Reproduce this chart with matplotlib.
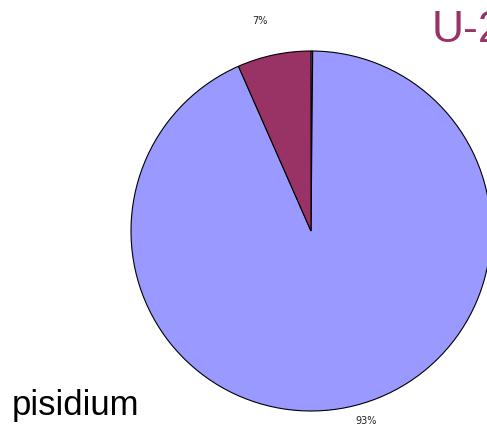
import numpy as np
import matplotlib
matplotlib.use('Agg')
import matplotlib.pyplot as plt

# slice shares, clockwise from twelve o'clock
names = ['other', 'U-2', 'pisidium']
shares = [0.15, 93.25, 6.6]
colors = ['#E8E8E8', '#9999FF', '#993366']
pct_labels = ['', '93%', '7%']
label_radius = [1.1, 1.1, 1.2]
label_shift = [0, 4.5, 1.8]  # degrees, nudges the label off the slice middle

fig = plt.figure(figsize=(4.87, 4.33), dpi=100)
ax = fig.add_axes([131 / 487, 22 / 433, 360 / 487, 360 / 433])

wedges, _ = ax.pie(shares, colors=colors, startangle=90, counterclock=False,
                   radius=1.0, wedgeprops=dict(edgecolor='black', linewidth=0.8))
for w in wedges:
    w.set_clip_on(False)

for w, lab, r, d in zip(wedges, pct_labels, label_radius, label_shift):
    if not lab:
        continue
    mid = np.deg2rad((w.theta1 + w.theta2) / 2 + d)
    ax.text(r * np.cos(mid), r * np.sin(mid), lab, ha='center', va='center',
            fontsize=7, color='#222222', clip_on=False)

ax.set_xlim(-1, 1)
ax.set_ylim(-1, 1)
ax.set_aspect('equal')
ax.axis('off')

fig.text(432 / 487, 1 - 31 / 433, 'U-2', fontsize=32, color='#993366',
         family='Liberation Sans', ha='left', va='center')
fig.text(12 / 487, 1 - 405 / 433, 'pisidium', fontsize=25, color='black',
         family='Liberation Sans', ha='left', va='center')

fig.savefig('out.png', dpi=100)
